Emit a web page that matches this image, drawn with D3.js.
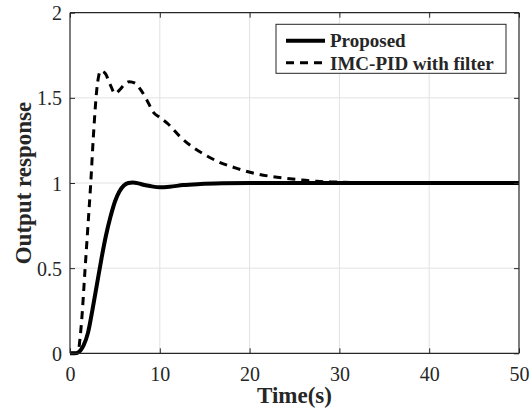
<!DOCTYPE html>
<html>
<head>
<meta charset="utf-8">
<script src="https://cdn.jsdelivr.net/npm/d3@7"></script>
<style>
  html, body { margin: 0; padding: 0; background: #fff; }
  svg { display: block; }
  text { font-family: "Liberation Serif", "Times New Roman", serif; fill: #262626; }
</style>
</head>
<body>
<svg id="chart" width="531" height="415"></svg>
<script>
// ---- data ----
const proposedT = [0, 0.5, 0.9, 1.2, 1.5, 2.0, 2.5, 3.0, 3.5, 4.0, 4.5, 5.0, 5.5, 6.0, 6.5, 7.0, 7.6, 8.3, 8.92, 10.0, 11.1, 12.6, 14.5, 17, 20, 25, 30, 40, 50];
const proposedY = [0, 0, 0.005, 0.02, 0.045, 0.12, 0.255, 0.405, 0.555, 0.69, 0.8, 0.89, 0.95, 0.985, 1.0, 1.003, 0.998, 0.988, 0.982, 0.975, 0.978, 0.988, 0.994, 0.998, 1.0, 1.0, 1.0, 1.0, 1.0];

const imcT = [0, 0.5, 0.75, 0.93, 1.1, 1.3, 1.67, 2.04, 2.3, 2.6, 2.98, 3.2, 3.4, 3.9, 4.5, 5.02, 5.5, 6.0, 6.6, 7.25, 7.9, 8.55, 9.29, 10.0, 10.96, 12.26, 13.57, 15.05, 16.72, 18.58, 20.26, 22.1, 23.96, 25.83, 27.5, 29.3, 32, 36, 40, 50];
const imcY = [0, 0, 0.0, 0.01, 0.08, 0.194, 0.488, 0.78, 0.99, 1.27, 1.547, 1.63, 1.658, 1.645, 1.575, 1.525, 1.545, 1.575, 1.595, 1.586, 1.545, 1.488, 1.415, 1.385, 1.345, 1.272, 1.214, 1.165, 1.12, 1.086, 1.06, 1.041, 1.028, 1.018, 1.01, 1.006, 1.003, 1.0, 1.0, 1.0];

const xTicks = [0, 10, 20, 30, 40, 50];
const yTicks = [0, 0.5, 1, 1.5, 2];
const yTickLabels = ["0", "0.5", "1", "1.5", "2"];
const seriesNames = ["Proposed", "IMC-PID with filter"];
const xLabel = "Time(s)";
const yLabel = "Output response";

// ---- layout ----
const svg = d3.select("#chart");
const L = 70, R = 519, T = 12.7, B = 353.3;
const x = d3.scaleLinear().domain([0, 50]).range([L, R]);
const y = d3.scaleLinear().domain([0, 2]).range([B, T]);
const axisColor = "#262626";

// grid
const grid = svg.append("g");
grid.selectAll("line.vx").data(xTicks.slice(1, -1)).enter().append("line")
  .attr("x1", d => x(d)).attr("x2", d => x(d)).attr("y1", T).attr("y2", B)
  .attr("stroke", "#e2e2e2").attr("stroke-width", 1);
grid.selectAll("line.hy").data(yTicks.slice(1, -1)).enter().append("line")
  .attr("y1", d => y(d)).attr("y2", d => y(d)).attr("x1", L).attr("x2", R)
  .attr("stroke", "#e2e2e2").attr("stroke-width", 1);

// lines
const lineGen = d3.line().x(d => x(d[0])).y(d => y(d[1])).curve(d3.curveMonotoneX);

svg.append("path")
  .datum(imcT.map((t, i) => [t, imcY[i]]))
  .attr("d", lineGen).attr("fill", "none").attr("stroke", "#000")
  .attr("stroke-width", 3).attr("stroke-dasharray", "8,6");

svg.append("path")
  .datum(proposedT.map((t, i) => [t, proposedY[i]]))
  .attr("d", lineGen).attr("fill", "none").attr("stroke", "#000")
  .attr("stroke-width", 4).attr("stroke-linejoin", "round");

// axes (box with inward ticks on all four sides)
const tickLen = 5;
const bottomAxis = d3.axisBottom(x).tickValues(xTicks).tickSize(-tickLen).tickPadding(10).tickFormat(d3.format("d"));
const topAxis = d3.axisTop(x).tickValues(xTicks).tickSize(-tickLen).tickFormat("");
const leftAxis = d3.axisLeft(y).tickValues(yTicks).tickSize(-tickLen).tickPadding(8).tickFormat((d, i) => yTickLabels[i]);
const rightAxis = d3.axisRight(y).tickValues(yTicks).tickSize(-tickLen).tickFormat("");

function styleAxis(g) {
  g.select(".domain").attr("stroke", axisColor).attr("stroke-width", 1.2);
  g.selectAll(".tick line").attr("stroke", axisColor).attr("stroke-width", 1);
  g.selectAll(".tick text").attr("fill", axisColor)
    .style("font-family", '"Liberation Serif", "Times New Roman", serif').style("font-size", "20px");
}
const gB = svg.append("g").attr("transform", `translate(0,${B})`).call(bottomAxis).call(styleAxis);
gB.selectAll(".domain").attr("d", `M${L},0H${R}`);
gB.selectAll(".tick text").attr("dy", null).attr("y", 28);
const gT = svg.append("g").attr("transform", `translate(0,${T})`).call(topAxis).call(styleAxis);
gT.selectAll(".domain").attr("d", `M${L},0H${R}`);
const gL = svg.append("g").attr("transform", `translate(${L},0)`).call(leftAxis).call(styleAxis);
gL.selectAll(".domain").attr("d", `M0,${T}V${B}`);
gL.selectAll(".tick text").attr("dy", "0.35em").attr("x", -8);
const gR = svg.append("g").attr("transform", `translate(${R},0)`).call(rightAxis).call(styleAxis);
gR.selectAll(".domain").attr("d", `M0,${T}V${B}`);

// axis labels
svg.append("text").attr("x", (L + R) / 2).attr("y", 403).attr("text-anchor", "middle")
  .style("font-size", "23px").style("font-weight", "bold").attr("fill", "#000").text(xLabel);
svg.append("text").attr("transform", `translate(31,${(T + B) / 2}) rotate(-90)`).attr("text-anchor", "middle")
  .style("font-size", "23px").style("font-weight", "bold").attr("fill", "#000").text(yLabel);

// legend
const lg = svg.append("g");
lg.append("rect").attr("x", 276).attr("y", 24.3).attr("width", 230).attr("height", 49)
  .attr("fill", "#fff").attr("stroke", axisColor).attr("stroke-width", 1);
const rows = [
  { name: seriesNames[0], dash: null, w: 4, yLine: 40.7, yText: 47 },
  { name: seriesNames[1], dash: "8,6", w: 3, yLine: 62.7, yText: 69.5 }
];
rows.forEach(r => {
  lg.append("line").attr("x1", 286).attr("x2", 325).attr("y1", r.yLine).attr("y2", r.yLine)
    .attr("stroke", "#000").attr("stroke-width", r.w).attr("stroke-dasharray", r.dash);
  lg.append("text").attr("x", 330).attr("y", r.yText)
    .style("font-size", "19px").style("font-weight", "bold").attr("fill", "#000").text(r.name);
});
</script>
</body>
</html>
